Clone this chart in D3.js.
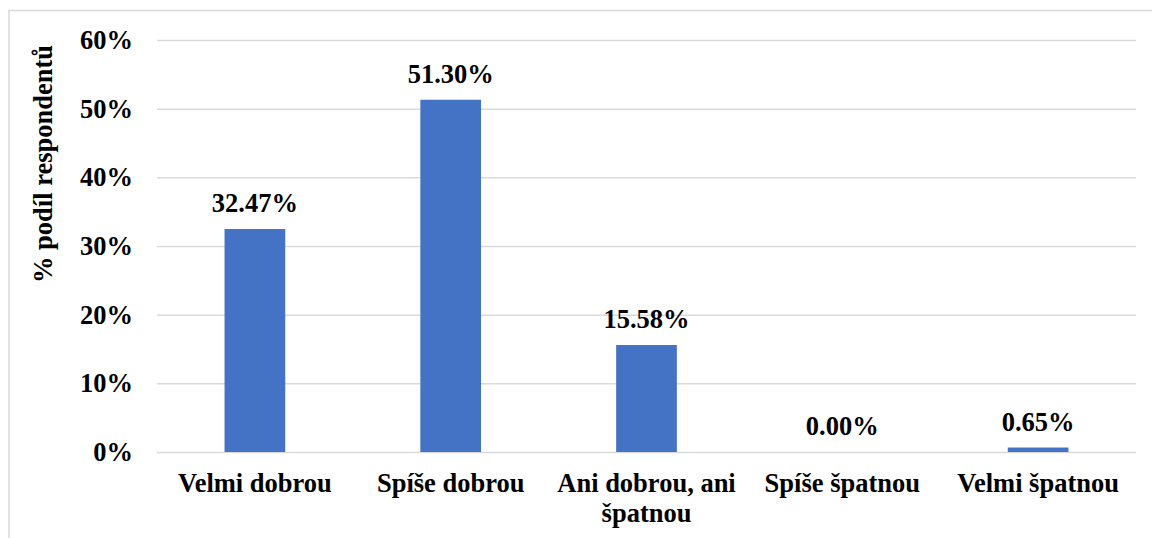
<!DOCTYPE html>
<html><head><meta charset="utf-8">
<script src="https://cdn.jsdelivr.net/npm/d3@7"></script>
<style>
html,body{margin:0;padding:0;background:#fff;}
svg{display:block;}
</style></head>
<body>
<svg id="chart" width="1152" height="538"></svg>
<script>
const categories = ["Velmi dobrou", "Spíše dobrou", "Ani dobrou, ani špatnou", "Spíše špatnou", "Velmi špatnou"];
const values = [32.47, 51.30, 15.58, 0.00, 0.65];
const valueLabels = ["32.47%", "51.30%", "15.58%", "0.00%", "0.65%"];
const yTicks = [0, 10, 20, 30, 40, 50, 60];
const yTitle = "% podíl respondentů";

const FONT = "'Liberation Serif', Tinos, 'Times New Roman', 'DejaVu Serif', 'Noto Serif', serif";
const svg = d3.select("#chart");
const W = 1152, H = 538;
const m = {left: 157, right: 1136, top: 40, bottom: 452};
const fs = 26.5;

function styleText(sel) {
  sel.attr("font-family", FONT).attr("font-weight", "bold").attr("font-size", fs).attr("fill", "#000")
     .style("font-family", FONT).style("font-weight", "700");
}

// chart border
svg.append("rect").attr("x", 9).attr("y", 10.5).attr("width", W + 20).attr("height", H + 20)
  .attr("fill", "none").attr("stroke", "#d9d9d9").attr("stroke-width", 1.5);

const x = d3.scaleBand().domain(categories).range([m.left, m.right])
  .paddingInner(0.69).paddingOuter(0.345);
const y = d3.scaleLinear().domain([0, 60]).range([m.bottom, m.top]);

// gridlines
const yAxis = d3.axisLeft(y).tickValues(yTicks).tickFormat(d => d + "%")
  .tickSize(-(m.right - m.left)).tickPadding(24);
const gy = svg.append("g").attr("transform", `translate(${m.left},0)`).call(yAxis);
gy.select(".domain").remove();
gy.selectAll(".tick line").attr("stroke", "#d9d9d9").attr("stroke-width", 1.5);
styleText(gy.selectAll(".tick text"));

// bars
svg.append("g").selectAll("rect").data(values).join("rect")
  .attr("x", (d, i) => x(categories[i]))
  .attr("width", x.bandwidth())
  .attr("y", d => y(d))
  .attr("height", d => y(0) - y(d))
  .attr("fill", "#4472C4");

// value labels
styleText(svg.append("g").selectAll("text").data(values).join("text")
  .attr("x", (d, i) => x(categories[i]) + x.bandwidth() / 2)
  .attr("y", d => y(d) - 17)
  .attr("text-anchor", "middle")
  .text((d, i) => valueLabels[i]));

// category labels with wrapping
const xAxis = d3.axisBottom(x).tickSize(0).tickPadding(0);
const gx = svg.append("g").attr("transform", `translate(0,${m.bottom})`).call(xAxis);
gx.select(".domain").remove();
const cat = gx.selectAll(".tick text");
styleText(cat);
cat.attr("dy", null).attr("y", 40)
  .each(function() {
    const t = d3.select(this);
    const words = t.text().split(" ");
    t.text(null);
    const maxW = x.step() - 8;
    let line = [], lineNo = 0;
    let ts = t.append("tspan").attr("x", 0).attr("y", 40);
    for (const w of words) {
      line.push(w);
      ts.text(line.join(" "));
      if (ts.node().getComputedTextLength() > maxW && line.length > 1) {
        line.pop(); ts.text(line.join(" "));
        line = [w]; lineNo++;
        ts = t.append("tspan").attr("x", 0).attr("y", 40 + lineNo * 30).text(w);
      }
    }
  });

// y title
styleText(svg.append("text")
  .attr("transform", `translate(52,${164}) rotate(-90)`)
  .attr("text-anchor", "middle")
  .text(yTitle));
</script>
</body></html>
